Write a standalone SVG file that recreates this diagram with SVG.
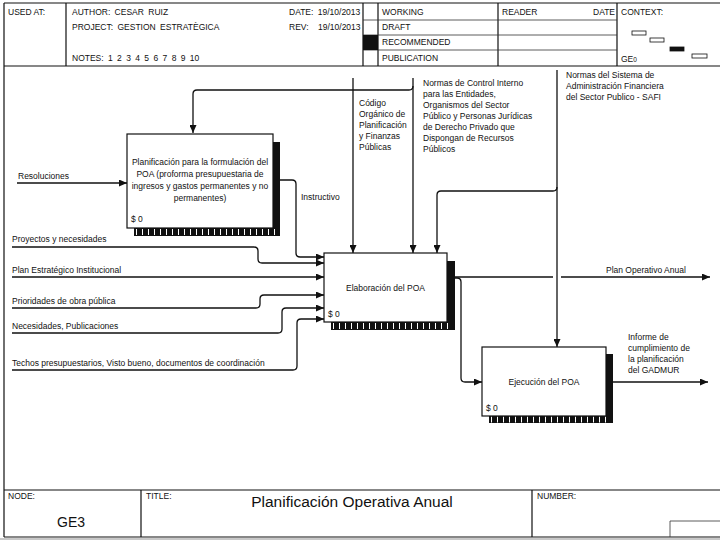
<svg xmlns="http://www.w3.org/2000/svg" width="720" height="540" viewBox="0 0 720 540">
<style>
text{font-family:"Liberation Sans",Arial,sans-serif;fill:#111}
.h{font-size:8.5px}
.t{font-size:8.5px}
.frame{fill:none;stroke:#111;stroke-width:1.2}
.thin{fill:none;stroke:#333;stroke-width:0.8}
.box{fill:#fff;stroke:#111;stroke-width:1.2}
.sh{fill:#111}
.tick{stroke:#fff;stroke-width:6;stroke-dasharray:1 5}
.c{fill:none;stroke:#111;stroke-width:1.3}
.a{marker-end:url(#arr)}
</style>
<defs>
<marker id="arr" markerUnits="userSpaceOnUse" markerWidth="9" markerHeight="7" refX="8" refY="3.5" orient="auto">
<path d="M0,0 L8,3.5 L0,7 z" fill="#111"/>
</marker>
</defs>
<rect width="720" height="540" fill="#fff"/>
<g id="header">
<path class="frame" d="M4,3 H720 M4,3 V537 M4,66 H720 M66,3 V66 M363,3 V66 M378,3 V66 M498,3 V66 M617,3 V66"/>
<path class="thin" d="M363,20 H617 M363,35 H617 M363,50 H617"/>
<rect x="363" y="35" width="15" height="15" fill="#111"/>
<text class="h" x="8" y="15">USED AT:</text>
<text class="h" x="72" y="15" word-spacing="2">AUTHOR: CESAR RUIZ</text>
<text class="h" x="72" y="30" word-spacing="2">PROJECT: GESTION ESTRATÈGICA</text>
<text class="h" x="72" y="61" word-spacing="2">NOTES: 1 2 3 4 5 6 7 8 9 10</text>
<text class="h" x="289" y="15" word-spacing="2">DATE: 19/10/2013</text>
<text class="h" x="289" y="30">REV:</text>
<text class="h" x="318" y="30">19/10/2013</text>
<text class="h" x="382" y="15">WORKING</text>
<text class="h" x="382" y="30">DRAFT</text>
<text class="h" x="382" y="45">RECOMMENDED</text>
<text class="h" x="382" y="61">PUBLICATION</text>
<text class="h" x="502" y="15">READER</text>
<text class="h" x="593" y="15">DATE</text>
<text class="h" x="621" y="15">CONTEXT:</text>
<text class="h" x="621" y="62">GE<tspan font-size="6.5">0</tspan></text>
<rect x="632" y="31" width="14" height="4" fill="#fff" stroke="#111" stroke-width="0.8"/>
<rect x="650" y="38" width="14" height="4" fill="#fff" stroke="#111" stroke-width="0.8"/>
<rect x="670" y="47" width="14" height="4" fill="#111" stroke="#111" stroke-width="0.8"/>
<rect x="692" y="54" width="15" height="4" fill="#fff" stroke="#111" stroke-width="0.8"/>
</g>
<g id="footer">
<path class="frame" d="M4,490 H720 M4,537 H720 M141,490 V537 M532,490 V537"/>
<path class="thin" d="M670,537 V521 H720"/>
<path d="M0,539 H720" stroke="#777" stroke-width="0.8"/>
<text class="h" x="8" y="499" font-size="7.5px">NODE:</text>
<text class="h" x="146" y="499" font-size="7.5px">TITLE:</text>
<text class="h" x="537" y="499" font-size="7.5px">NUMBER:</text>
<text x="57" y="527" font-size="14px">GE3</text>
<text x="352" y="507" font-size="15.5px" text-anchor="middle">Planificación Operativa Anual</text>
</g>
<g id="connectors">
<path class="c a" d="M17,183 H127"/>
<path class="c a" d="M413,86 Q413,90 409,90 H197 Q193,90 193,94 V133"/>
<path class="c a" d="M353,78 V253"/>
<path class="c a" d="M413,78 V253"/>
<path class="c a" d="M557,70 V347"/>
<path class="c a" d="M557,187 Q557,191 553,191 H441 Q437,191 437,195 V253"/>
<path class="c" d="M455,277 H553"/>
<path class="c a" d="M561,277 H710"/>
<path class="c a" d="M455,278 H457 Q461,278 461,282 V378 Q461,382 465,382 H482"/>
<path class="c a" d="M613,382 H708"/>
<path class="c a" d="M280,180 H292 Q296,180 296,184 V253 Q296,257 300,257 H324"/>
<path class="c a" d="M12,247 H254 Q258,247 258,251 V259 Q258,263 262,263 H324"/>
<path class="c a" d="M12,277 H324"/>
<path class="c a" d="M12,308 H256 Q260,308 260,304 V299 Q260,295 264,295 H324"/>
<path class="c a" d="M12,333 H278 Q282,333 282,329 V312 Q282,308 286,308 H324"/>
<path class="c a" d="M12,370 H293 Q297,370 297,366 V323 Q297,319 301,319 H324"/>
</g>
<g id="labels">
<text class="t" x="18" y="179">Resoluciones</text>
<text class="t" x="12" y="242">Proyectos y necesidades</text>
<text class="t" x="12" y="273">Plan Estratégico Institucional</text>
<text class="t" x="12" y="304">Prioridades de obra pública</text>
<text class="t" x="12" y="329">Necesidades, Publicaciones</text>
<text class="t" x="12" y="366">Techos presupuestarios, Visto bueno, documentos de coordinación</text>
<text class="t" x="301" y="200">Instructivo</text>
<text class="t" x="606" y="273">Plan Operativo Anual</text>
<text class="t"><tspan x="628" y="340">Informe de</tspan><tspan x="628" y="351">cumplimiento de</tspan><tspan x="628" y="362">la planificación</tspan><tspan x="628" y="373">del GADMUR</tspan></text>
<text class="t"><tspan x="566" y="78">Normas del Sistema de</tspan><tspan x="566" y="89">Administración Financiera</tspan><tspan x="566" y="100">del Sector Publico - SAFI</tspan></text>
<text class="t"><tspan x="423" y="86">Normas de Control Interno</tspan><tspan x="423" y="97">para las Entidades,</tspan><tspan x="423" y="108">Organismos del Sector</tspan><tspan x="423" y="119">Público y Personas Jurídicas</tspan><tspan x="423" y="130">de Derecho Privado que</tspan><tspan x="423" y="141">Dispongan de Recursos</tspan><tspan x="423" y="152">Públicos</tspan></text>
<text class="t"><tspan x="359" y="106">Código</tspan><tspan x="359" y="117">Orgánico de</tspan><tspan x="359" y="128">Planificación</tspan><tspan x="359" y="139">y Finanzas</tspan><tspan x="359" y="150">Públicas</tspan></text>
</g>
<g id="node-planificacion">
<rect class="sh" x="273" y="142" width="7" height="94"/>
<rect class="sh" x="134" y="228" width="146" height="8"/>
<line class="tick" x1="136" y1="232" x2="278" y2="232"/>
<rect class="box" x="127" y="134" width="146" height="94"/>
<text class="t" text-anchor="middle"><tspan x="200" y="165">Planificación para la formulación del</tspan><tspan x="200" y="177">POA (proforma presupuestaria de</tspan><tspan x="200" y="189">ingresos y gastos permanentes y no</tspan><tspan x="200" y="201">permanentes)</tspan></text>
<text class="t" x="131" y="222">$ 0</text>
</g>
<g id="node-elaboracion">
<rect class="sh" x="447" y="261" width="8" height="69"/>
<rect class="sh" x="331" y="322" width="124" height="8"/>
<line class="tick" x1="333" y1="326" x2="453" y2="326"/>
<rect class="box" x="324" y="253" width="123" height="69"/>
<text class="t" x="385.5" y="291" text-anchor="middle">Elaboración del POA</text>
<text class="t" x="328" y="317">$ 0</text>
</g>
<g id="node-ejecucion">
<rect class="sh" x="606" y="354" width="7" height="69"/>
<rect class="sh" x="489" y="416" width="124" height="7"/>
<line class="tick" x1="491" y1="419.5" x2="611" y2="419.5"/>
<rect class="box" x="482" y="347" width="124" height="69"/>
<text class="t" x="544" y="385" text-anchor="middle">Ejecución del POA</text>
<text class="t" x="486" y="411">$ 0</text>
</g>
</svg>
